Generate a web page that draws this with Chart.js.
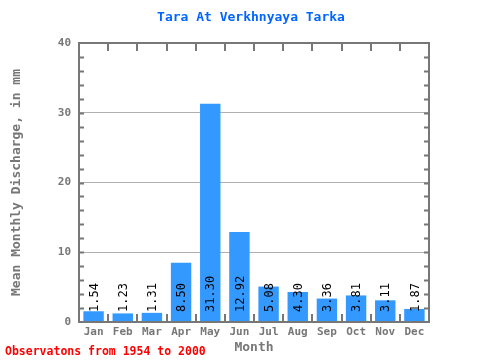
<!DOCTYPE html>
<html>
<head>
<meta charset="utf-8">
<script src="https://cdn.jsdelivr.net/npm/chart.js@4"></script>
<style>
  body { margin: 0; background: #fff; }
  #wrap { width: 480px; height: 360px; }
</style>
</head>
<body>
<div id="wrap"><canvas id="discharge-chart" width="480" height="360"></canvas></div>
<script>
// Mean monthly discharge, Tara At Verkhnyaya Tarka
const months = ['Jan', 'Feb', 'Mar', 'Apr', 'May', 'Jun', 'Jul', 'Aug', 'Sep', 'Oct', 'Nov', 'Dec'];
const discharge = [1.54, 1.23, 1.31, 8.50, 31.30, 12.92, 5.08, 4.30, 3.36, 3.81, 3.11, 1.87];
const chart_title = 'Tara At Verkhnyaya Tarka';
const footer_note = 'Observatons from 1954 to 2000';

const mono = '"DejaVu Sans Mono", "Liberation Mono", monospace';
const axis_grey = '#777777';

// frame, inside ticks, titles and value labels
const decorations = {
  id: 'decorations',
  afterDatasetsDraw(chart) {
    const ctx = chart.ctx;
    const y = chart.scales.y;
    const base = y.getPixelForValue(0);
    const meta = chart.getDatasetMeta(0);
    ctx.save();
    ctx.fillStyle = '#000';
    ctx.font = '12px ' + mono;
    ctx.textAlign = 'left';
    ctx.textBaseline = 'middle';
    meta.data.forEach((bar, i) => {
      ctx.save();
      ctx.translate(bar.x + 1, base - 10);
      ctx.rotate(-Math.PI / 2);
      ctx.fillText(discharge[i].toFixed(2), 0, 0);
      ctx.restore();
    });
    ctx.restore();
  },
  afterDraw(chart) {
    const ctx = chart.ctx;
    const area = chart.chartArea;
    const x = chart.scales.x;
    const y = chart.scales.y;
    ctx.save();
    ctx.strokeStyle = axis_grey;
    ctx.lineWidth = 2;
    ctx.beginPath();
    // minor ticks every 2 units on left and right
    for (let v = 2; v < 40; v += 2) {
      const py = Math.round(y.getPixelForValue(v)) + 0.5;
      ctx.moveTo(area.left, py);
      ctx.lineTo(area.left + 5, py);
      ctx.moveTo(area.right, py);
      ctx.lineTo(area.right - 5, py);
    }
    // month boundaries on top and bottom
    for (let i = 1; i < months.length; i++) {
      const px = Math.round((x.getPixelForValue(i - 1) + x.getPixelForValue(i)) / 2);
      ctx.moveTo(px, area.top);
      ctx.lineTo(px, area.top + 8);
      ctx.moveTo(px, area.bottom);
      ctx.lineTo(px, area.bottom - 8);
    }
    ctx.stroke();
    ctx.strokeRect(area.left, area.top, area.right - area.left, area.bottom - area.top);

    ctx.font = 'bold 13px ' + mono;
    ctx.fillStyle = '#0066ff';
    ctx.textAlign = 'center';
    ctx.textBaseline = 'middle';
    ctx.fillText(chart_title, 251, 18);

    ctx.font = 'bold 11.5px ' + mono;
    ctx.fillStyle = '#ff0000';
    ctx.textAlign = 'left';
    ctx.fillText(footer_note, 5, 352);
    ctx.restore();
  }
};

const ctx_discharge = document.getElementById('discharge-chart').getContext('2d');

const discharge_chart = new Chart(ctx_discharge, {
  type: 'bar',
  data: {
    labels: months,
    datasets: [{
      data: discharge,
      backgroundColor: '#3399ff',
      borderWidth: 0,
      barPercentage: 0.7,
      categoryPercentage: 1.0,
    }]
  },
  options: {
    responsive: false,
    animation: false,
    layout: {
      padding: { top: 43, right: 51, bottom: 0, left: 0 }
    },
    plugins: {
      legend: { display: false },
      title: { display: false },
      tooltip: { enabled: false },
    },
    scales: {
      x: {
        afterFit(scale) { scale.height = 38; },
        grid: { display: false, drawTicks: false },
        border: { display: false },
        ticks: {
          color: axis_grey,
          font: { family: mono, size: 11, weight: 'bold' },
          padding: 4,
          maxRotation: 0,
        },
        title: {
          display: true,
          text: 'Month',
          color: axis_grey,
          font: { family: mono, size: 13, weight: 'bold' },
          padding: { top: 0, bottom: 5 },
        },
      },
      y: {
        min: 0,
        max: 40,
        z: 1,
        afterFit(scale) { scale.width = 79; },
        grid: {
          drawTicks: false,
          color: (c) => (c.tick.value === 0 || c.tick.value === 40) ? 'rgba(0,0,0,0)' : '#b0b0b0',
          lineWidth: 1,
        },
        border: { display: false },
        ticks: {
          stepSize: 10,
          color: axis_grey,
          font: { family: mono, size: 11, weight: 'bold' },
          padding: 8,
        },
        title: {
          display: true,
          text: 'Mean Monthly Discharge, in mm',
          color: axis_grey,
          font: { family: mono, size: 13, weight: 'bold' },
          padding: { top: 9, bottom: 0 },
        },
      }
    }
  },
  plugins: [decorations]
});
</script>
</body>
</html>
